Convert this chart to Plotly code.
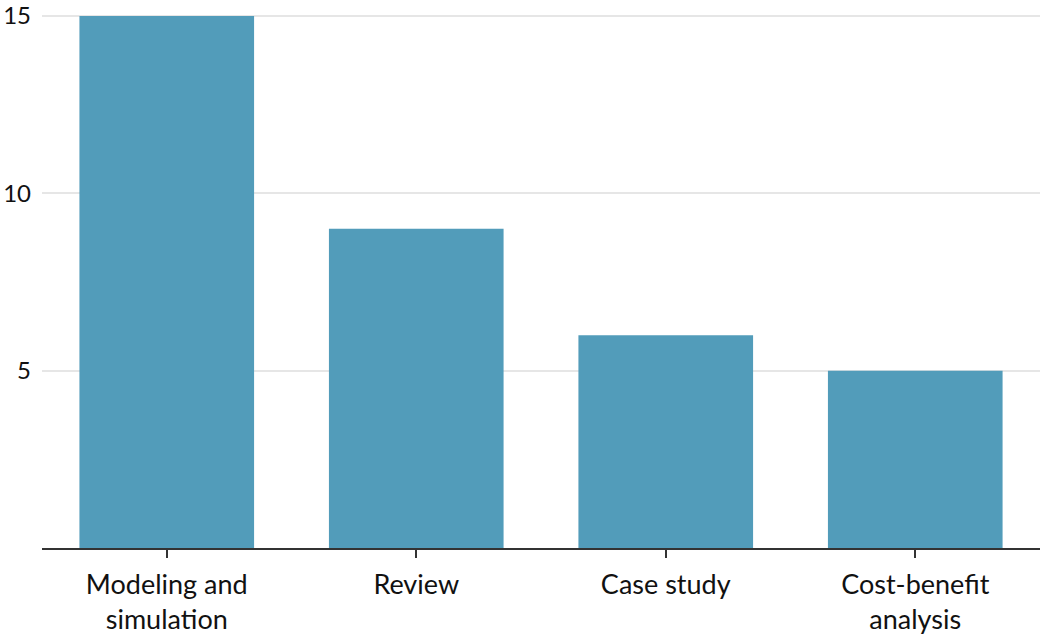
import plotly.graph_objects as go

categories = ["Modeling and<br>simulation", "Review", "Case study", "Cost-benefit<br>analysis"]
values = [15, 9, 6, 5]
y_ticks = [5, 10, 15]

fig = go.Figure(go.Bar(x=categories, y=values, marker=dict(color="#529cba", line=dict(width=0))))

fig.update_layout(
    width=1040, height=640,
    margin=dict(l=42, r=0, t=15, b=92),
    plot_bgcolor="white", paper_bgcolor="white",
    bargap=0.3,
    font=dict(family="Lato, 'Source Sans Pro', sans-serif", size=27, color="#111"),
    showlegend=False,
)
fig.update_xaxes(
    showline=True, linecolor="#333", linewidth=1.5,
    ticks="outside", ticklen=8, tickcolor="#333", tickwidth=1.5,
    showgrid=False, ticklabelstandoff=4, automargin=False,
)
fig.update_yaxes(
    range=[0, 15.03], tickvals=y_ticks, showline=False, zeroline=False,
    showgrid=True, gridcolor="#e6e6e6", gridwidth=2,
    ticks="", ticklabelstandoff=10, tickfont=dict(size=24),
    ticklabeloverflow="allow", automargin=False,
)

fig.write_html("out.html")
